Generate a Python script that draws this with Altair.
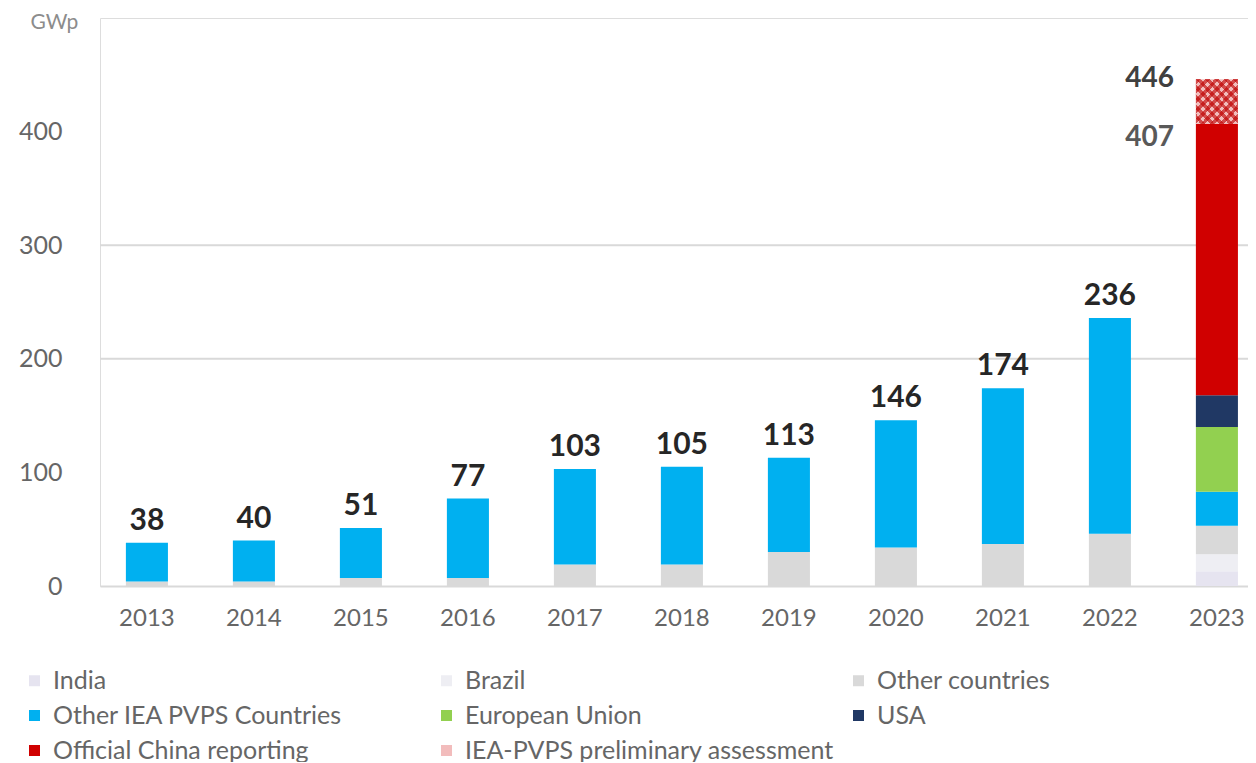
import altair as alt
import pandas as pd

years = ["2013", "2014", "2015", "2016", "2017", "2018", "2019", "2020", "2021", "2022", "2023"]
categories = ["India", "Brazil", "Other countries", "Other IEA PVPS Countries",
              "European Union", "USA", "Official China reporting",
              "IEA-PVPS preliminary assessment"]
india = [0, 0, 0, 0, 0, 0, 0, 0, 0, 0, 13]
brazil = [0, 0, 0, 0, 0, 0, 0, 0, 0, 0, 15]
other_countries = [4, 4, 7, 7, 19, 19, 30, 34, 37, 46, 25]
other_iea = [34, 36, 44, 70, 84, 86, 83, 112, 137, 190, 30]
eu = [0, 0, 0, 0, 0, 0, 0, 0, 0, 0, 57]
usa = [0, 0, 0, 0, 0, 0, 0, 0, 0, 0, 28]
china = [0, 0, 0, 0, 0, 0, 0, 0, 0, 0, 239]
prelim = [0, 0, 0, 0, 0, 0, 0, 0, 0, 0, 39]

total_years = ["2013", "2014", "2015", "2016", "2017", "2018", "2019", "2020", "2021", "2022"]
totals = [38, 40, 51, 77, 103, 105, 113, 146, 174, 236]
side_years = ["2023", "2023"]
side_values = [446, 407]
side_kind = ["top", "official"]

grid_values = [200, 300]

colors = ["#e6e4f0", "#eeeef3", "#d9d9d9", "#00b0f0", "#92d050", "#203864", "#d00000", "#f2bcbc"]

series = [india, brazil, other_countries, other_iea, eu, usa, china, prelim]
rows = []
for ci, (cat, vals) in enumerate(zip(categories, series)):
    for y, v in zip(years, vals):
        if v > 0:
            rows.append({"year": y, "category": cat, "value": v, "order": ci})
df = pd.DataFrame(rows)

tot_df = pd.DataFrame({"year": total_years, "value": totals, "label": [str(t) for t in totals]})
side_df = pd.DataFrame({"year": side_years, "value": side_values,
                        "label": [str(v) for v in side_values], "kind": side_kind})
grid_df = pd.DataFrame({"v": grid_values})

FONT = "Lato"
W, H = 1148, 568

xscale = alt.Scale(domain=years, paddingInner=0.607, paddingOuter=0.168, align=0.72)
yscale = alt.Scale(domain=[0, 500], nice=False)

grid = alt.Chart(grid_df).mark_rule(color="#d9d9d9", strokeWidth=2).encode(
    y=alt.Y("v:Q", scale=yscale)
)

bars = alt.Chart(df).mark_bar().encode(
    x=alt.X("year:N", scale=xscale, sort=years,
            axis=alt.Axis(title=None, labelAngle=0, domainColor="#d9d9d9", domainWidth=2,
                          ticks=False, labelPadding=20, labelFontSize=24, labelColor="#666666",
                          labelFont=FONT)),
    y=alt.Y("value:Q", stack="zero", scale=yscale,
            axis=alt.Axis(values=[0, 100, 200, 300, 400], grid=False, domain=False, ticks=False,
                          labelPadding=38, labelFontSize=25, labelColor="#666666", labelFont=FONT,
                          title="GWp", titleAngle=0, titleX=-70, titleY=4, titleAlign="left",
                          titleBaseline="middle", titleFontSize=21, titleFontWeight="normal",
                          titleColor="#8c8c8c", titleFont=FONT)),
    color=alt.Color("category:N", scale=alt.Scale(domain=categories, range=colors),
                    legend=alt.Legend(orient="none", legendX=-78, legendY=650, columns=3,
                                      direction="horizontal", title=None, symbolType="square",
                                      symbolSize=121, symbolStrokeWidth=0, labelFontSize=25,
                                      labelFont=FONT, labelColor="#666666", labelOffset=6,
                                      gridAlign="all", columnPadding=12, rowPadding=9,
                                      labelLimit=600)),
    order=alt.Order("order:Q", sort="ascending"),
)


def stripes(x1, y1, x2, y2):
    stops = []
    n = 9
    for k in range(n):
        a = k / n
        b = (k + 0.5) / n
        c = (k + 1) / n
        stops += [alt.GradientStop(color="rgba(190,0,0,0.6)", offset=a),
                  alt.GradientStop(color="rgba(190,0,0,0.6)", offset=b),
                  alt.GradientStop(color="rgba(255,255,255,0)", offset=b),
                  alt.GradientStop(color="rgba(255,255,255,0)", offset=c)]
    return alt.LinearGradient(gradient="linear", stops=stops, x1=x1, y1=y1, x2=x2, y2=y2)


def overlay(grad):
    return alt.Chart(df).transform_stack(
        stack="value", groupby=["year"], as_=["v0", "v1"], sort=[alt.SortField("order")]
    ).transform_filter(
        alt.datum.category == categories[-1]
    ).mark_bar(color=grad).encode(
        x=alt.X("year:N", scale=xscale, sort=years),
        y=alt.Y("v0:Q", scale=yscale),
        y2="v1:Q",
    )


hatch1 = overlay(stripes(0, 0, 1, 1))
hatch2 = overlay(stripes(1, 0, 0, 1))

top_labels = alt.Chart(tot_df).mark_text(
    font=FONT, fontSize=30, fontWeight="bold", color="#262626", baseline="alphabetic", dy=-13
).encode(
    x=alt.X("year:N", scale=xscale, sort=years),
    y=alt.Y("value:Q", scale=yscale),
    text="label:N",
)

side_top = alt.Chart(side_df).transform_filter(alt.datum.kind == "top").mark_text(
    font=FONT, fontSize=28, fontWeight="bold", color="#404040", baseline="middle", align="right", dx=-43
).encode(
    x=alt.X("year:N", scale=xscale, sort=years),
    y=alt.Y("value:Q", scale=yscale),
    text="label:N",
)
side_off = alt.Chart(side_df).transform_filter(alt.datum.kind == "official").mark_text(
    font=FONT, fontSize=28, fontWeight="bold", color="#595959", baseline="middle", align="right",
    dx=-43, dy=14
).encode(
    x=alt.X("year:N", scale=xscale, sort=years),
    y=alt.Y("value:Q", scale=yscale),
    text="label:N",
)

chart = alt.layer(grid, bars, hatch1, hatch2, top_labels, side_top, side_off).properties(
    width=W, height=H,
    autosize=alt.AutoSizeParams(type="none"),
    padding={"left": 92, "top": 10, "right": 0, "bottom": 176},
).configure_view(stroke=None).configure(background="white")

chart.save("out.html", embed_options={"renderer": "svg", "actions": False})
